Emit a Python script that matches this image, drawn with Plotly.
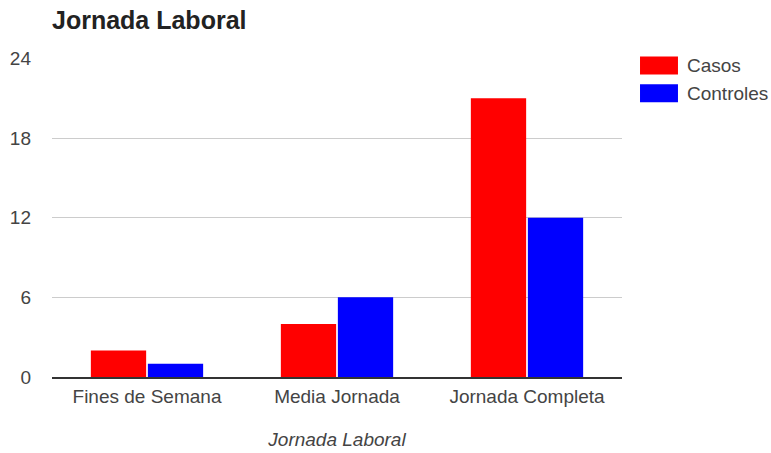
import plotly.graph_objects as go

categories = ["Fines de Semana", "Media Jornada", "Jornada Completa"]
casos = [2, 4, 21]
controles = [1, 6, 12]
series_names = ["Casos", "Controles"]
series_colors = ["#ff0000", "#0000ff"]
y_ticks = [0, 6, 12, 18, 24]

FONT = "Arial, Liberation Sans"

fig = go.Figure()
for name, vals, color in zip(series_names, [casos, controles], series_colors):
    fig.add_trace(go.Bar(
        x=categories, y=vals, name=name,
        marker=dict(color=color, line=dict(width=0)),
        showlegend=False,
    ))

# legend drawn as swatches + labels on the right
for i, (name, color) in enumerate(zip(series_names, series_colors)):
    y0 = 1.005 - i * 0.0875
    fig.add_shape(type="rect", xref="paper", yref="paper",
                  x0=1.0316, x1=1.0982, y0=y0 - 0.0565, y1=y0,
                  fillcolor=color, line=dict(width=0))
    fig.add_annotation(xref="paper", yref="paper", x=1.11, y=y0 - 0.028,
                       text=name, showarrow=False, xanchor="left", yanchor="middle",
                       font=dict(family=FONT, size=19, color="#444"))

fig.update_layout(
    width=771, height=453,
    margin=dict(l=52, r=149, t=58, b=76),
    paper_bgcolor="white", plot_bgcolor="white",
    barmode="group", bargap=0.4, bargroupgap=0.03,
    title=dict(text="<b>Jornada Laboral</b>", x=52 / 771, xanchor="left",
               y=1 - 20 / 453, yanchor="middle",
               font=dict(family=FONT, size=25, color="#222")),
    font=dict(family=FONT, size=19, color="#444"),
    xaxis=dict(
        automargin=False,
        showgrid=False, showline=True, linecolor="#333", linewidth=1.5,
        ticks="", ticklabelstandoff=1,
        tickfont=dict(size=19, color="#444"),
        title=dict(text="<i>Jornada Laboral</i>", standoff=27,
                   font=dict(size=19, color="#444")),
    ),
    yaxis=dict(
        automargin=False,
        range=[0, 24.03], tickvals=y_ticks, showgrid=True, gridcolor="#cccccc",
        gridwidth=1, zeroline=False, showline=False, ticks="",
        ticklabelstandoff=20,
        tickfont=dict(size=19, color="#444"),
    ),
)

fig.write_html("out.html")
